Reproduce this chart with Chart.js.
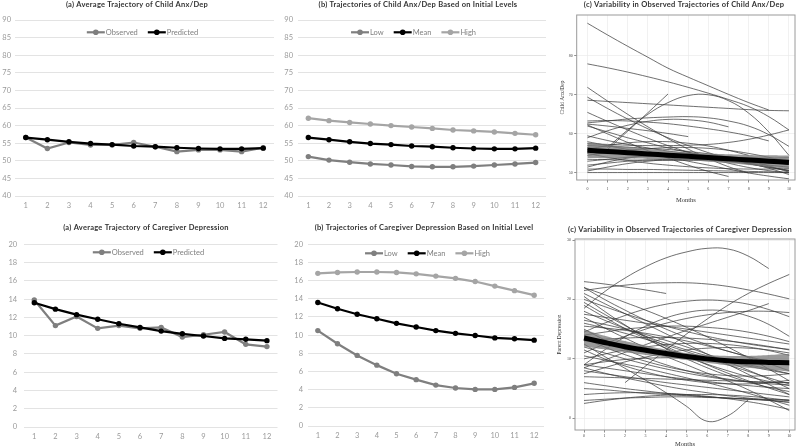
<!DOCTYPE html>
<html>
<head>
<meta charset="utf-8">
<script src="https://cdn.jsdelivr.net/npm/chart.js@4.4.1/dist/chart.umd.min.js"></script>
<style>
  html, body { margin: 0; padding: 0; background: #fff; }
  body { width: 800px; height: 447px; position: relative; overflow: hidden; }
  .panel { position: absolute; }
</style>
</head>
<body>
<div class="panel" style="left:0px;top:0px;width:280px;height:215px"><canvas id="ansPromedio"></canvas></div>
<div class="panel" style="left:278px;top:0px;width:272px;height:215px"><canvas id="ansNiveles"></canvas></div>
<div class="panel" style="left:555px;top:0px;width:245px;height:210px"><canvas id="ansVariabilidad"></canvas></div>
<div class="panel" style="left:0px;top:222px;width:282px;height:224px"><canvas id="depPromedio"></canvas></div>
<div class="panel" style="left:290px;top:222px;width:258px;height:223px"><canvas id="depNiveles"></canvas></div>
<div class="panel" style="left:555px;top:222px;width:245px;height:228px"><canvas id="depVariabilidad"></canvas></div>
<script>
// Datos
const meses = ['1', '2', '3', '4', '5', '6', '7', '8', '9', '10', '11', '12'];
const mesesC = [0, 1, 2, 3, 4, 5, 6, 7, 8, 9, 10];

// Ansiedad/depresión del niño
const ansObservado = [56.6, 53.5, 55.2, 54.5, 54.5, 55.2, 54.0, 52.6, 53.1, 53.1, 52.6, 53.7];
const ansPredicho = [56.6, 56.0, 55.4, 54.9, 54.6, 54.2, 54.0, 53.7, 53.5, 53.4, 53.4, 53.6];
const ansBajo = [51.2, 50.2, 49.6, 49.1, 48.8, 48.4, 48.3, 48.3, 48.5, 48.8, 49.1, 49.5];
const ansAlto = [62.1, 61.4, 60.9, 60.45, 60.0, 59.6, 59.2, 58.75, 58.5, 58.2, 57.8, 57.4];

// Depresión del cuidador
const depObservado = [13.9, 11.1, 12.1, 10.8, 11.1, 10.8, 10.9, 9.85, 10.1, 10.4, 9.05, 8.8];
const depPredicho = [13.6, 12.9, 12.3, 11.8, 11.3, 10.9, 10.5, 10.2, 9.96, 9.7, 9.6, 9.45];
const depBajo = [10.5, 9.05, 7.77, 6.7, 5.75, 5.1, 4.5, 4.18, 4.03, 4.03, 4.25, 4.7];
const depAlto = [16.8, 16.9, 16.95, 16.95, 16.9, 16.75, 16.5, 16.25, 15.9, 15.4, 14.9, 14.4];

// Panel (c) niño: tendencia media y banda
const ansMediaC = [55.8, 55.49, 55.18, 54.87, 54.56, 54.25, 53.94, 53.63, 53.32, 53.01, 52.7];
const ansBandaSup = [57.8, 57.24, 56.68, 56.17, 55.66, 55.25, 54.99, 54.78, 54.62, 54.51, 54.45];
const ansBandaInf = [53.8, 53.74, 53.68, 53.57, 53.46, 53.25, 52.89, 52.48, 52.02, 51.51, 50.95];

// Trayectorias individuales (meses 0-10)
const ansTrayectorias = [
    [88.3, 85.3, 82.4, 79.6, 76.8, 74.5, 72.3, 70.1, 68.0, 66.1],
    [77.9, 76.9, 75.8, 74.6, 73.3, 71.9, 70.4, 68.8, 67.0, 64.4, 61.0],
    [68.6, 68.3, 68.0, 67.7, 67.4, 67.1, 66.8, 66.5, 66.2, 66.0, 65.9],
    [71.9, 68.4, 65.0, 61.8, 58.8, 56.1, 53.7, 51.6, 50.0],
    [null, 56.5, 61.0, 65.0, 68.0, 69.8, 70.0, 68.5, 65.3, 60.5, 54.5],
    [null, 56.0, 60.7, 65.4, 70.2],
    [65.5, 63.2, 61.0, 58.9, 57.0, 55.3, 53.8, 52.5, 51.4, 50.6, 50.0],
    [62.8, 63.3, 63.8, 64.1, 64.3, 64.4, 64.1, 63.3, 62.0, 59.8, 56.8],
    [62.5, 62.0, 61.4, 60.8, 60.1, 59.3],
    [57.5, 57.3, 57.1, 57.0, 57.0, 57.1, 57.3, 57.8, 58.6, 59.7, 61.0],
    [69.4, 66.5, 63.8, 61.3, 59.0, 57.0, 55.2, 53.7, 52.4, 51.4, 50.7],
    [63.3, 63.4, 63.3, 63.0, 62.6, 62.0, 61.3, 60.5, 59.5, 58.2],
    [59.0, 60.8, 62.2, 63.2, 63.7, 63.6, 63.0, 61.8],
    [56.5, 56.0, 55.5, 55.0, 54.6, 54.2, 53.8, 53.4, 53.0, 52.7, 52.3],
    [53.0, 53.5, 54.0, 54.3, 54.5, 54.5, 54.3, 54.0, 53.5, 52.9, 52.2],
    [51.0, 51.0, 50.9, 50.9, 50.8, 50.7, 50.6, 50.5, 50.4, 50.3, 50.2],
    [50.1, 50.1, 50.1, 50.1, 50.1, 50.1, 50.1, 50.1, 50.1, 50.1, 50.1],
    [52.0, 52.5, 53.0, 53.3, 53.5, 53.5, 53.3, 52.9, 52.3, 51.5, 50.5],
    [58.0, 57.0, 56.0, 55.0, 54.0, 53.0, 52.0, 51.0, 50.0, 49.2, 48.5],
    [54.5, 55.2, 55.8, 56.2, 56.5, 56.5, 56.3, 55.8, 55.0, 54.0, 52.8],
    [62.0, 60.5, 59.0, 57.7, 56.4, 55.3, 54.3, 53.4, 52.6, 52.0, 51.5],
    [55.0, 54.0, 53.2, 52.5, 52.0, 51.6, 51.3, 51.1, 51.0, 51.0, 51.1],
    [51.5, 52.8, 53.8, 54.5, 54.8, 54.7, 54.3, 53.5, 52.5, 51.2, 49.6],
    [57.0, 56.8, 56.6, 56.3, 56.0, 55.5, 54.9, 54.1, 53.1, 51.8, 50.2],
    [59.5, 58.3, 57.3, 56.4, 55.6, 55.0, 54.5, 54.1, 53.9, 53.8, 53.9],
    [62.3, 60.0, 57.8, 55.7, 53.8, 52.0, 50.4, 49.1],
    [53.5, 53.4, 53.3, 53.3, 53.2, 53.2, 53.2, 53.2, 53.3, 53.3, 53.4],
    [50.5, 51.5, 52.4, 53.0, 53.4, 53.5, 53.4, 53.0, 52.4, 51.6, 50.6],
    [56.0, 57.0, 57.7, 58.0, 58.0, 57.6, 56.9, 55.8, 54.5]
];

// Panel (c) cuidador
const depMediaC = [13.5, 12.75, 12.05, 11.45, 10.9, 10.4, 10.0, 9.7, 9.5, 9.4, 9.35];
const depBandaSup = [14.9, 13.9, 13.0, 12.25, 11.55, 11.0, 10.65, 10.5, 10.5, 10.65, 10.85];
const depBandaInf = [12.1, 11.6, 11.1, 10.65, 10.25, 9.8, 9.35, 8.9, 8.5, 8.15, 7.85];

const depTrayectorias = [
    [18.5, 21.3, 23.6, 25.5, 27.0, 28.0, 28.6, 28.5, 27.3, 25.2],
    [23.0, 22.6, 22.1, 21.6, 21.0],
    [21.5, 22.0, 22.4, 22.7, 22.8, 22.8, 22.6, 22.2, 21.6, 20.9, 20.1],
    [null, null, 6.0, 8.8, 11.5, 14.2, 16.7, 19.0, 21.0, 22.7, 24.2],
    [12.5, 10.4, 8.4, 6.4, 4.3, 2.0, -0.5, 0.4, 3.1],
    [14.5, 16.0, 17.3, 18.4, 19.2, 19.7, 19.9, 19.7, 19.2, 18.3, 17.1],
    [9.0, 11.5, 13.7, 15.5, 16.9, 17.8, 18.2, 18.0, 17.2, 15.8, 13.8],
    [22.0, 20.0, 18.2, 16.5, 15.0, 13.6, 12.4, 11.3, 10.4, 9.6, 9.0],
    [21.0, 19.3, 17.6, 15.9, 14.2, 12.5, 10.8, 9.1, 7.4, 5.7, 4.0],
    [20.0, 18.8, 17.6, 16.5, 15.5, 14.6, 13.8, 13.1, 12.5, 12.0, 11.6],
    [19.5, 17.5, 15.6, 13.8, 12.1, 10.5, 9.0, 7.6, 6.3, 5.1, 4.0],
    [17.5, 17.0, 16.5, 16.0, 15.5, 15.0, 14.5, 14.0, 13.5, 13.0, 12.5],
    [16.0, 15.2, 14.3, 13.3, 12.3, 11.2, 10.1, 9.0, 7.9, 6.8, 5.8],
    [15.0, 13.2, 11.6, 10.2, 9.0, 8.0, 7.2, 6.6, 6.2, 6.0, 6.0],
    [13.0, 13.3, 13.5, 13.6, 13.6, 13.5, 13.3, 13.0, 12.6, 12.1, 11.5],
    [12.0, 11.0, 10.0, 9.1, 8.3, 7.6, 7.0, 6.5, 6.1, 5.8, 5.6],
    [10.0, 10.8, 11.5, 12.0, 12.4, 12.6, 12.6, 12.4, 12.0, 11.4, 10.6],
    [9.0, 9.5, 9.9, 10.1, 10.2, 10.1, 9.9, 9.5, 9.0, 8.3, 7.5],
    [8.0, 7.5, 7.0, 6.5, 6.0, 5.6, 5.2, 4.8, 4.4, 4.0, 3.6],
    [7.5, 8.5, 9.5, 10.3, 11.0, 11.5, 11.8, 11.9, 11.8, 11.5, 11.0],
    [6.0, 5.5, 5.0, 4.6, 4.2, 3.9, 3.6, 3.4, 3.2, 3.1, 3.0],
    [5.0, 4.8, 4.5, 4.2, 4.0, 3.8, 3.6, 3.4, 3.3, 3.2, 3.1],
    [3.0, 3.2, 3.4, 3.5, 3.6, 3.6, 3.5, 3.4, 3.2, 3.0, 2.7],
    [4.0, 4.2, 4.3, 4.3, 4.2, 4.0, 3.7, 3.3, 2.8, 2.2, 1.5],
    [8.5, 7.6, 6.8, 6.1, 5.4, 4.8, 4.3, 3.8, 3.4, 3.0, 2.7],
    [18.0, 16.5, 15.1, 13.8, 12.6, 11.5, 10.5, 9.6, 8.8, 8.1, 7.5],
    [14.0, 14.5, 15.0, 15.3, 15.5, 15.5, 15.3, 15.0, 14.5, 13.8, 12.9],
    [11.0, 12.5, 13.8, 15.0, 16.0, 16.8, 17.4, 17.8, 18.0, 18.0, 17.8],
    [8.5, 9.8, 11.1, 12.4, 13.6, 14.8, 15.9, 17.0, 18.1, 19.3],
    [19.0, 17.0, 15.1, 13.4, 11.8, 10.4, 9.1, 8.0, 7.0, 6.2, 5.5],
    [16.5, 15.8, 15.0, 14.1, 13.1, 12.0, 10.8, 9.5, 8.1, 6.6, 5.0],
    [7.0, 6.9, 6.8, 6.7, 6.6, 6.5, 6.4, 6.3, 6.2, 6.1, 6.0],
    [11.5, 10.0, 8.8, 7.8, 7.0, 6.4, 6.0, 5.8, 5.8, 6.0, 6.4],
    [13.5, 12.0, 10.7, 9.6, 8.7, 8.0, 7.5, 7.2, 7.1, 7.2, 7.5],
    [20.5, 18.0, 15.7, 13.6, 11.7, 10.0, 8.5, 7.2, 6.1, 5.2, 4.5],
    [22.0, 20.8, 19.5, 18.2, 16.8, 15.3, 13.7, 12.0, 10.2, 8.3, 6.3],
    [15.5, 15.2, 14.8, 14.3, 13.7, 13.0, 12.2, 11.3, 10.3, 9.2, 8.0],
    [2.5, 3.0, 3.4, 3.7, 3.9, 4.0, 4.0, 3.9, 3.7, 3.4, 3.0],
    [10.5, 9.8, 9.1, 8.4, 7.6, 6.8, 6.0, 5.1, 4.2, 3.2, 2.2],
    [9.0, 8.5, 8.0, 7.5, 7.0, 6.6, 6.2, 5.8, 5.5, 5.2, 5.0],
    [17.0, 15.2, 13.5, 11.9, 10.4, 9.0, 7.6, 6.3, 4.8, 3.1, 1.3]
];

// Colores de las series
const GRIS_OSCURO = '#7f7f7f';
const GRIS_CLARO = '#a5a5a5';
const NEGRO = '#000000';

// Título del panel en una posición fija
const tituloPanel = {
    id: 'tituloPanel',
    afterDraw(chart, args, opts) {
        const ctx = chart.ctx;
        ctx.save();
        ctx.font = 'bold 7.5px Lato';
        ctx.letterSpacing = '0.25px';
        ctx.fillStyle = '#333333';
        ctx.textAlign = 'center';
        ctx.textBaseline = 'middle';
        ctx.fillText(opts.texto, opts.cx, opts.cy);
        ctx.restore();
    }
};

// Leyenda horizontal estilo Excel dentro del área del gráfico
const leyendaExcel = {
    id: 'leyendaExcel',
    afterDraw(chart, args, opts) {
        const ctx = chart.ctx;
        const items = chart.data.datasets.map(d => ({ label: d.label, color: d.borderColor }));
        ctx.save();
        ctx.font = '7.5px Lato';
        const anchos = items.map(it => 20 + ctx.measureText(it.label).width);
        const total = anchos.reduce((a, b) => a + b, 0) + 9 * (items.length - 1);
        let x = opts.cx - total / 2;
        const y = opts.cy;
        items.forEach((it, i) => {
            ctx.strokeStyle = it.color;
            ctx.lineWidth = 2.2;
            ctx.beginPath();
            ctx.moveTo(x, y);
            ctx.lineTo(x + 18, y);
            ctx.stroke();
            ctx.fillStyle = it.color;
            ctx.beginPath();
            ctx.arc(x + 9, y, 2.8, 0, Math.PI * 2);
            ctx.fill();
            ctx.fillStyle = '#7f7f7f';
            ctx.textAlign = 'left';
            ctx.textBaseline = 'middle';
            ctx.fillText(it.label, x + 19, y);
            x += anchos[i] + 9;
        });
        ctx.restore();
    }
};

// Gráfico de líneas estilo Excel (paneles a y b)
function graficoExcel(id, cfg) {
    return new Chart(document.getElementById(id), {
        type: 'line',
        data: {
            labels: meses,
            datasets: cfg.series.map(s => ({
                label: s.label,
                data: s.data,
                borderColor: s.color,
                backgroundColor: s.color,
                pointBackgroundColor: s.color,
                pointBorderWidth: 0,
                pointRadius: 2.7,
                borderWidth: 2.2,
                tension: 0,
                order: s.orden || 0
            }))
        },
        plugins: [tituloPanel, leyendaExcel],
        options: {
            responsive: true,
            maintainAspectRatio: false,
            animation: false,
            layout: { padding: cfg.padding },
            plugins: {
                tituloPanel: { texto: cfg.titulo, cx: cfg.tituloX, cy: cfg.tituloY },
                leyendaExcel: { cx: cfg.leyendaX, cy: cfg.leyendaY },
                legend: { display: false },
                tooltip: { enabled: false }
            },
            scales: {
                x: {
                    offset: true,
                    grid: { display: false, drawTicks: false },
                    border: { display: false },
                    ticks: { color: '#9a9a9a', font: { family: 'Lato', size: 7.5 }, padding: 5 },
                    afterFit: s => { s.height = 19; }
                },
                y: {
                    min: cfg.min,
                    max: cfg.max,
                    grid: { color: '#e3e3e3', drawTicks: false },
                    border: { display: false },
                    ticks: { stepSize: cfg.paso, color: '#9a9a9a', font: { family: 'Lato', size: 7.5 }, padding: cfg.yPad },
                    afterFit: s => { s.width = cfg.yAncho; }
                }
            }
        }
    });
}

// Marco gris alrededor del panel (estilo ggplot)
const marcoPanel = {
    id: 'marcoPanel',
    afterDraw(chart) {
        const a = chart.chartArea;
        const ctx = chart.ctx;
        ctx.save();
        ctx.strokeStyle = '#9a9a9a';
        ctx.lineWidth = 1;
        ctx.strokeRect(a.left, a.top, a.right - a.left, a.bottom - a.top);
        ctx.restore();
    }
};

// Gráfico de trayectorias individuales (panel c)
function graficoTrayectorias(id, cfg) {
    const fuenteSerif = 'Liberation Serif';
    const datasets = [
        { data: cfg.media, borderColor: '#000', borderWidth: 5, pointRadius: 0, tension: 0.4, fill: false },
        { data: cfg.sup, borderWidth: 0, pointRadius: 0, tension: 0.4, fill: '+1', backgroundColor: 'rgba(120,120,120,0.75)' },
        { data: cfg.inf, borderWidth: 0, pointRadius: 0, tension: 0.4, fill: false },
        ...cfg.lineas.map(l => ({
            data: l,
            borderColor: 'rgba(55,55,55,0.8)',
            borderWidth: 0.9,
            pointRadius: 0,
            tension: 0.4,
            fill: false
        }))
    ];
    return new Chart(document.getElementById(id), {
        type: 'line',
        data: { labels: mesesC, datasets },
        plugins: [marcoPanel, tituloPanel],
        options: {
            responsive: true,
            maintainAspectRatio: false,
            animation: false,
            layout: { padding: { left: 0, right: 5, top: cfg.arriba, bottom: 0 } },
            plugins: {
                tituloPanel: { texto: cfg.titulo, cx: cfg.tituloX, cy: cfg.tituloYpos },
                legend: { display: false },
                tooltip: { enabled: false }
            },
            scales: {
                x: {
                    type: 'linear',
                    min: cfg.xMin,
                    max: cfg.xMax,
                    afterBuildTicks: s => { s.ticks = mesesC.map(v => ({ value: v })); },
                    grid: { color: '#ebebeb', lineWidth: 0.7, tickColor: '#444', tickLength: 2.5, tickWidth: 0.6 },
                    border: { display: false },
                    ticks: { color: '#444', font: { family: fuenteSerif, size: 4 }, padding: cfg.xPad, maxRotation: 0 },
                    title: { display: true, text: 'Months', color: '#333', font: { family: fuenteSerif, size: 6.5 }, padding: { top: 0, bottom: cfg.tituloXPad } },
                    afterFit: s => { s.height = cfg.xAlto; }
                },
                y: {
                    min: cfg.yMin,
                    max: cfg.yMax,
                    afterBuildTicks: s => { s.ticks = cfg.yTicks.map(v => ({ value: v })); },
                    grid: { color: '#ebebeb', lineWidth: 0.7, tickColor: '#444', tickLength: 2.5, tickWidth: 0.6 },
                    border: { display: false },
                    ticks: { color: '#444', font: { family: fuenteSerif, size: 4 }, padding: 1.5 },
                    title: { display: true, text: cfg.tituloY, color: '#333', font: { family: fuenteSerif, size: 5.5 }, padding: { top: cfg.tituloYPad, bottom: 0 } },
                    afterFit: s => { s.width = cfg.yAncho; }
                }
            }
        }
    });
}

document.addEventListener('DOMContentLoaded', () => {
    graficoExcel('ansPromedio', {
        titulo: '(a) Average Trajectory of Child Anx/Dep',
        series: [
            { label: 'Observed', data: ansObservado, color: GRIS_OSCURO, orden: 1 },
            { label: 'Predicted', data: ansPredicho, color: NEGRO, orden: 0 }
        ],
        min: 40, max: 90, paso: 5,
        padding: { left: 0, right: 6, top: 20, bottom: 0 },
        tituloX: 137, tituloY: 5,
        leyendaX: 143, leyendaY: 32.3,
        yAncho: 15, yPad: 4
    });

    graficoExcel('ansNiveles', {
        titulo: '(b) Trajectories of Child Anx/Dep Based on Initial Levels',
        series: [
            { label: 'Low', data: ansBajo, color: GRIS_OSCURO },
            { label: 'Mean', data: ansPredicho, color: NEGRO },
            { label: 'High', data: ansAlto, color: GRIS_CLARO }
        ],
        min: 40, max: 90, paso: 5,
        padding: { left: 0, right: 2, top: 20, bottom: 0 },
        tituloX: 140, tituloY: 5,
        leyendaX: 136, leyendaY: 32.3,
        yAncho: 20, yPad: 5
    });

    graficoTrayectorias('ansVariabilidad', {
        titulo: '(c) Variability in Observed Trajectories of Child Anx/Dep',
        tituloY: 'Child Anx/Dep',
        media: ansMediaC, sup: ansBandaSup, inf: ansBandaInf, lineas: ansTrayectorias,
        xMin: -0.53, xMax: 10.3, yMin: 48.2, yMax: 90.4, yTicks: [50, 60, 70, 80],
        arriba: 15, tituloX: 129, tituloYpos: 5,
        xAlto: 30, xPad: 4, tituloXPad: 6, yAncho: 21.7, tituloYPad: 4.7
    });

    graficoExcel('depPromedio', {
        titulo: '(a) Average Trajectory of Caregiver Depression',
        series: [
            { label: 'Observed', data: depObservado, color: GRIS_OSCURO, orden: 1 },
            { label: 'Predicted', data: depPredicho, color: NEGRO, orden: 0 }
        ],
        min: 0, max: 20, paso: 2,
        padding: { left: 0, right: 4.5, top: 22.3, bottom: 0 },
        tituloX: 146, tituloY: 6,
        leyendaX: 149, leyendaY: 30.3,
        yAncho: 23.7, yPad: 6.5
    });

    graficoExcel('depNiveles', {
        titulo: '(b) Trajectories of Caregiver Depression Based on Initial Level',
        series: [
            { label: 'Low', data: depBajo, color: GRIS_OSCURO },
            { label: 'Mean', data: depPredicho, color: NEGRO },
            { label: 'High', data: depAlto, color: GRIS_CLARO }
        ],
        min: 0, max: 20, paso: 2,
        padding: { left: 0, right: 3, top: 22.3, bottom: 0 },
        tituloX: 134, tituloY: 6,
        leyendaX: 138, leyendaY: 31.3,
        yAncho: 18, yPad: 5
    });

    graficoTrayectorias('depVariabilidad', {
        titulo: '(c) Variability in Observed Trajectories of Caregiver Depression',
        tituloY: 'Parent Depression',
        media: depMediaC, sup: depBandaSup, inf: depBandaInf, lineas: depTrayectorias,
        xMin: -0.44, xMax: 10.28, yMin: -1.97, yMax: 30.17, yTicks: [0, 10, 20, 30],
        arriba: 17, tituloX: 125, tituloYpos: 7.5,
        xAlto: 20, xPad: 1, tituloXPad: 2, yAncho: 20, tituloYPad: 1.7
    });
});
</script>
</body>
</html>
